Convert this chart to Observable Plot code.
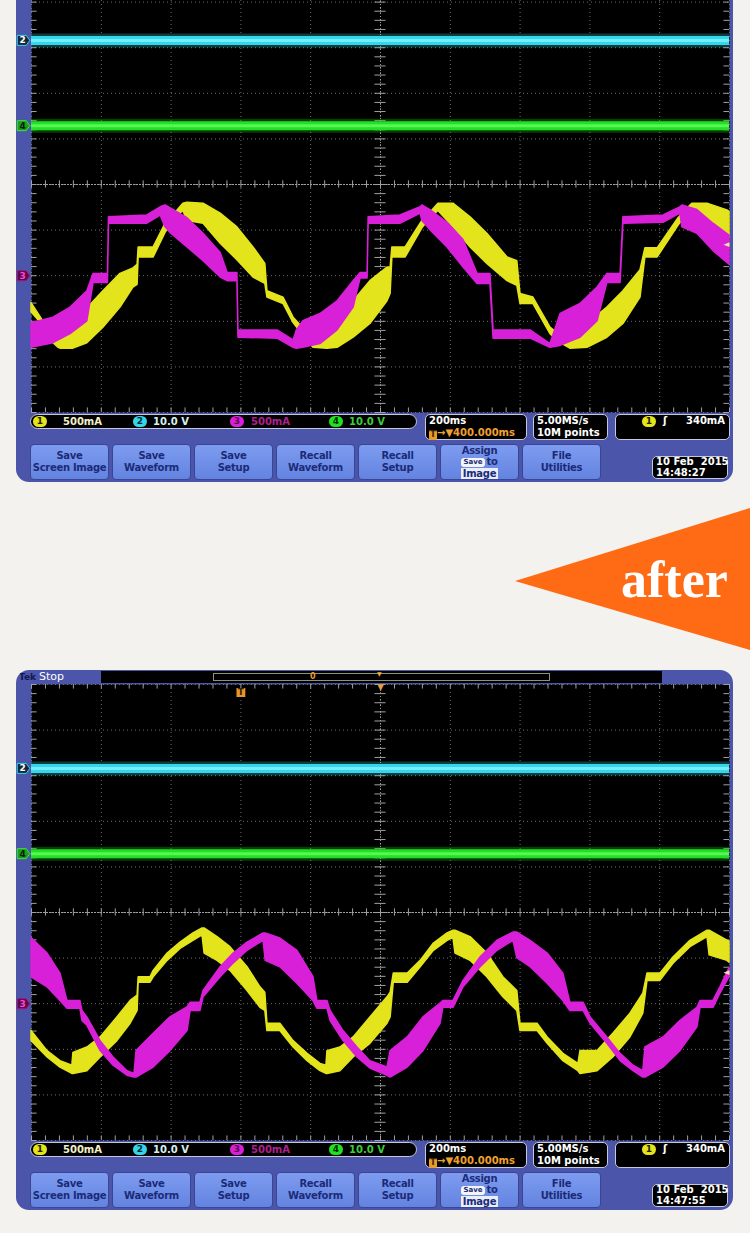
<!DOCTYPE html>
<html>
<head>
<meta charset="utf-8">
<script src="https://cdn.jsdelivr.net/npm/d3@7"></script>
<script src="https://cdn.jsdelivr.net/npm/@observablehq/plot@0.6"></script>
<style>
  html, body { margin: 0; padding: 0; }
  body { width: 750px; height: 1233px; overflow: hidden; position: relative; background: #f3f2ee; font-family: "DejaVu Sans", sans-serif; }
  .scope { position: absolute; left: 16px; width: 717px; height: 540px; background: #4b55aa; border-radius: 13px; overflow: hidden; }
  .plot { position: absolute; left: 1px; top: 14px; width: 716px; height: 456px; }
  .plot svg { display: block; max-width: none; }
  .tek { position: absolute; left: 3px; top: 1px; font: bold 9px/13px "DejaVu Sans"; color: #141850; }
  .stop { position: absolute; left: 23px; top: 0; font: 11px/14px "DejaVu Sans"; color: #fff; }
  .rec { position: absolute; left: 85px; top: 1px; width: 561px; height: 12px; background: #000; }
  .recview { position: absolute; left: 112px; top: 2px; width: 335px; height: 6px; border: 1px solid #8a9478; }
  .recT { position: absolute; left: 209px; top: 0; font: bold 8px/12px "DejaVu Sans"; color: #e89a2a; }
  .recD { position: absolute; left: 276px; top: 0; font: 6px/6px "DejaVu Sans"; color: #e8b040; }
  .pill { position: absolute; left: 14px; top: 472px; width: 385px; height: 13px; background: #000; border: 1px solid #c4c8dc; border-radius: 8px; }
  .badge { position: absolute; top: 1px; width: 14px; height: 11px; border-radius: 6px; font: bold 9px/11px "DejaVu Sans"; text-align: center; }
  .scale { position: absolute; top: 0; font: bold 10px/13px "DejaVu Sans"; white-space: pre; }
  .box { position: absolute; top: 472px; height: 24px; background: #000; border: 1px solid #c4c8dc; border-radius: 5px; color: #fff; font: bold 10px/12px "DejaVu Sans"; padding-left: 3px; white-space: pre; }
  .tb { display: inline-block; width: 8px; height: 10px; background: #e89a2a; color: #3a2000; border-radius: 2px; font-size: 8px; line-height: 10px; text-align: center; vertical-align: -1px; }
  .btn { position: absolute; top: 502px; width: 77px; height: 34px; background: linear-gradient(#7d9cf0, #6383e0); border: 1px solid #3a4694; border-radius: 4px; color: #1b2b78; font: bold 10px/12.5px "DejaVu Sans"; letter-spacing: -0.3px; white-space: nowrap; text-align: center; display: flex; flex-direction: column; justify-content: center; }
  .btn.three { line-height: 11.5px; }
  .mini { display: inline-block; background: #f4f4f4; color: #1b2b78; font-size: 7px; line-height: 9px; border-radius: 3px; padding: 0 2px; margin-right: 2px; vertical-align: 1px; letter-spacing: 0; }
  .hi { background: #e9eefb; padding: 0 2px; }
  .date { position: absolute; left: 636px; top: 514px; width: 71px; height: 21px; background: #000; border: 1px solid #c4c8dc; border-radius: 5px; color: #fff; font: bold 10px/10.5px "DejaVu Sans"; padding-left: 3px; white-space: pre; }
  .after { position: absolute; left: 0; top: 0; }
</style>
</head>
<body>
<svg class="after" width="750" height="1233">
  <polygon points="515,581 750,508 750,650" fill="#ff6b14"></polygon>
  <text x="621" y="597" fill="#fff" font-family="Liberation Serif" font-weight="bold" font-size="52">after</text>
</svg>
<script>
// timebase 200 ms/div, trigger at 0 ms, delay 400 ms
const timeMin = -600, timeMax = 1400, msPerDiv = 200, delayMs = 400;
const trigLevel = 340; // mA on channel 1

const chIds = [1, 2, 3, 4];
const chScale = ["500mA", "10.0 V", "500mA", "10.0 V"];
const chPerDiv = [500, 10, 500, 10];
const chOffsetDiv = [-2, 3.16, -2, 1.29];
const chColor = ["#e4e41c", "#34d6ea", "#d820d8", "#22e022"];
const chText = ["#f2f0c8", "#d6f0ee", "#b0208c", "#3ccc3c"];
const chDigit = ["#202000", "#002a30", "#5a0a4a", "#003000"];
const dcLevels = [0, 0]; // channel 2 and 4 sit at 0 V

// ---- before (upper screen), time in ms, current in mA ----
const beforeCh1T = [-600,-568,-545,-523,-517,-480,-440,-394,-345,-308,-296,-293,-250,-216,-187,-165,-153,-107,-58,-10,36,70,76,122,151,179,208,248,277,323,371,420,429,434,472,520,543,566,609,658,706,764,792,801,838,887,916,944,993,1050,1096,1145,1159,1194,1254,1274,1294,1337,1394,1400];
const beforeCh1Lo = [-400,-540,-710,-790,-800,-800,-740,-570,-350,-130,-100,200,200,470,630,710,600,570,350,170,-20,-90,-240,-310,-520,-660,-790,-800,-790,-680,-530,-280,-200,200,200,520,630,710,530,310,130,-60,-110,-310,-310,-640,-740,-800,-790,-680,-530,-240,200,200,550,650,710,530,420,410];
const beforeCh1Hi = [-300,-490,-640,-690,-690,-530,-360,-170,20,80,120,310,310,570,690,790,800,790,680,530,310,130,-170,-240,-460,-580,-690,-530,-460,-280,-60,90,90,310,310,600,690,790,790,640,460,200,160,-200,-240,-570,-660,-710,-530,-350,-170,60,300,300,630,715,790,790,715,700];

const beforeCh3T = [-600,-537,-488,-440,-422,-381,-378,-268,-230,-216,-202,-153,-107,-58,-38,-10,-7,105,151,160,179,228,277,323,343,363,366,457,515,520,543,592,638,678,715,724,830,887,916,973,1022,1050,1088,1096,1211,1259,1265,1308,1354,1400];
const beforeCh3Lo = [-790,-740,-640,-500,-80,-80,570,570,660,530,470,310,160,-20,-60,-60,-680,-690,-790,-800,-790,-750,-600,-350,-30,-30,570,570,680,600,500,310,90,-90,-90,-690,-690,-790,-770,-680,-500,-80,-80,570,580,680,530,460,270,120];
const beforeCh3Hi = [-520,-460,-350,-170,20,20,640,660,750,770,740,630,460,250,30,30,-600,-600,-710,-600,-500,-420,-280,-60,30,30,640,660,750,770,720,580,390,20,20,-600,-600,-750,-420,-310,-130,20,20,640,660,750,770,720,570,440];

// ---- after (lower screen) ----
const afterCh1T = [-600,-554,-517,-483,-480,-440,-402,-354,-316,-296,-293,-259,-250,-210,-173,-136,-110,-104,-67,-30,19,56,70,76,113,151,191,228,245,248,285,323,371,420,429,438,478,515,553,592,609,615,658,706,752,792,801,850,879,924,967,973,1022,1067,1116,1153,1165,1202,1240,1288,1337,1343,1394,1400];
const afterCh1Lo = [-410,-590,-700,-770,-770,-740,-590,-410,-220,-80,230,230,290,470,600,690,750,550,470,360,140,-45,-80,-300,-300,-480,-630,-740,-770,-770,-740,-590,-440,-220,-150,230,230,400,580,690,720,550,470,290,70,-80,-300,-300,-440,-630,-740,-770,-740,-590,-370,-110,250,250,440,620,730,530,470,450];
const afterCh1Hi = [-300,-520,-630,-680,-540,-480,-370,-150,30,90,290,290,360,550,670,770,825,825,730,620,400,180,120,-220,-220,-410,-550,-660,-680,-520,-480,-370,-150,70,120,330,330,470,660,770,800,800,730,550,290,140,-220,-220,-370,-550,-660,-520,-520,-330,-110,110,330,330,510,690,800,800,690,680];

const afterCh3T = [-600,-554,-517,-497,-460,-454,-440,-402,-365,-325,-305,-299,-250,-202,-153,-144,-116,-107,-58,-21,19,65,71,113,162,208,219,248,257,294,334,371,420,429,478,523,572,580,609,638,687,735,781,792,830,879,924,944,982,1002,1050,1088,1125,1153,1159,1211,1259,1308,1317,1354,1374,1400];
const afterCh3Lo = [290,180,30,-55,-55,-190,-240,-520,-680,-790,-810,-810,-700,-520,-300,-80,-80,70,290,440,580,690,470,400,220,30,-55,-55,-190,-410,-590,-710,-790,-810,-700,-520,-220,-45,-45,180,400,580,690,500,400,220,30,-80,-80,-220,-440,-630,-740,-810,-810,-700,-520,-260,-45,-45,110,290];
const afterCh3Hi = [720,550,330,30,30,-80,-150,-410,-590,-740,-770,-520,-330,-150,-40,10,10,140,400,550,670,770,770,715,580,290,30,30,-80,-300,-480,-630,-700,-520,-370,-150,0,30,30,250,510,690,780,780,690,550,330,10,10,-150,-370,-550,-680,-740,-480,-370,-190,-45,30,30,180,390];

const stamps = ["10 Feb  2015\n14:48:27", "10 Feb  2015\n14:47:55"];
const buttons = [["Save", "Screen Image"], ["Save", "Waveform"], ["Save", "Setup"], ["Recall", "Waveform"], ["Recall", "Setup"], ["Assign", "@to", "Image"], ["File", "Utilities"]];

const rows = (t, lo, hi) => t.map((d, i) => ({t: d, lo: lo[i], hi: hi[i]}));
const toDiv = (k, v) => chOffsetDiv[k] + v / chPerDiv[k];

// channel tag on the left edge
const tag = {draw(ctx, size) {
  const r = Math.sqrt(size / Math.PI);
  ctx.moveTo(-1.25 * r, -r); ctx.lineTo(0.55 * r, -r); ctx.lineTo(1.25 * r, 0);
  ctx.lineTo(0.55 * r, r); ctx.lineTo(-1.25 * r, r); ctx.closePath();
}};
const leftArrow = {draw(ctx, size) {
  const r = Math.sqrt(size / Math.PI);
  ctx.moveTo(-r, 0); ctx.lineTo(r, -r * 0.8); ctx.lineTo(r, r * 0.8); ctx.closePath();
}};

function scopePlot(ch1, ch3, showTop) {
  const divX = d3.range(timeMin, timeMax + 1, msPerDiv);
  const divY = d3.range(-5, 6);
  const minorX = d3.range(timeMin, timeMax + 1, msPerDiv / 5);
  const minorY = d3.range(-5, 5.01, 0.2);
  const tickMs = msPerDiv * 0.08;
  const center = timeMin + 5 * msPerDiv;
  const markers = [
    {id: 2, y: chOffsetDiv[1], fill: "#14283a", stroke: chColor[1], txt: "#fff"},
    {id: 4, y: chOffsetDiv[3], fill: "#1aa01a", stroke: "#40e040", txt: "#002000"},
    {id: 3, y: chOffsetDiv[2], fill: "#5a0c40", stroke: "#a01880", txt: "#ff40e0"}
  ];
  const dcY = (v, i) => toDiv(i ? 3 : 1, v);
  const marks = [
    Plot.frame({fill: "#000", stroke: "none"}),
    // graticule
    Plot.ruleX(divX, {stroke: "#6e6e6e", strokeDasharray: "1,3"}),
    Plot.ruleY(divY, {stroke: "#6e6e6e", strokeDasharray: "1,3"}),
    Plot.ruleX([center], {stroke: "#9a9a9a", strokeDasharray: "1,2"}),
    Plot.ruleY([0], {stroke: "#a0a0a0", strokeDasharray: "2,1"}),
    Plot.ruleX(minorX, {y1: -0.08, y2: 0.08, stroke: "#a0a0a0"}),
    Plot.ruleY(minorY, {x1: center - tickMs, x2: center + tickMs, stroke: "#a0a0a0"}),
    Plot.ruleX(minorX, {y1: 4.9, y2: 5, stroke: "#a0a0a0"}),
    Plot.ruleX(minorX, {y1: -5, y2: -4.9, stroke: "#a0a0a0"}),
    Plot.ruleY(minorY, {x1: timeMin, x2: timeMin + tickMs, stroke: "#a0a0a0"}),
    Plot.ruleY(minorY, {x1: timeMax - tickMs, x2: timeMax, stroke: "#a0a0a0"}),
    // ch2 and ch4 DC lines
    Plot.ruleY(dcLevels, {y: dcY, stroke: (v, i) => chColor[i ? 3 : 1], strokeWidth: 14, strokeOpacity: 0.28}),
    Plot.ruleY(dcLevels, {y: dcY, stroke: (v, i) => chColor[i ? 3 : 1], strokeWidth: 9}),
    Plot.ruleY(dcLevels, {y: dcY, stroke: (v, i) => i ? "#6cff6c" : "#8ef6ff", strokeWidth: 3, strokeOpacity: 0.7}),
    // ch1 and ch3 current bands
    Plot.areaY(ch1, {x: "t", y1: d => toDiv(0, d.lo), y2: d => toDiv(0, d.hi), fill: chColor[0], stroke: chColor[0], strokeWidth: 1.5}),
    Plot.areaY(ch3, {x: "t", y1: d => toDiv(2, d.lo), y2: d => toDiv(2, d.hi), fill: chColor[2], stroke: chColor[2], strokeWidth: 1.5}),
    // markers
    Plot.dot(markers, {x: () => timeMin, y: "y", dx: -8, r: 5, symbol: tag, fill: "fill", stroke: "stroke", strokeWidth: 1}),
    Plot.text(markers, {x: () => timeMin, y: "y", dx: -9, text: "id", fill: "txt", fontSize: 9, fontWeight: "bold"}),
    Plot.dot([trigLevel], {x: () => timeMax, y: v => toDiv(0, v), dx: -3, r: 3, symbol: leftArrow, fill: "#f6e6a6"})
  ];
  if (showTop) marks.push(
    Plot.text(["▼"], {x: () => delayMs, y: () => 5, dy: 3, fill: "#e8a030", fontSize: 8}),
    Plot.dot([0], {x: d => d, y: () => 5, dy: 8, r: 5, symbol: "square", fill: "#e8962a"}),
    Plot.text(["T"], {x: () => 0, y: () => 5, dy: 8, fill: "#3a2000", fontSize: 9, fontWeight: "bold"})
  );
  return Plot.plot({
    width: 716, height: 456,
    marginLeft: 14, marginRight: 4, marginTop: 0, marginBottom: 0,
    x: {domain: [timeMin, timeMax], axis: null},
    y: {domain: [-5, 5], axis: null},
    color: {type: "identity"},
    style: {background: "transparent", fontFamily: "DejaVu Sans", overflow: "visible"},
    marks
  });
}

function panel(top, stamp, chart, showTop) {
  const p = d3.select("body").append("div").attr("class", "scope").style("top", top + "px");
  if (showTop) {
    p.append("div").attr("class", "tek").text("Tek");
    p.append("div").attr("class", "stop").text("Stop");
    const rec = p.append("div").attr("class", "rec");
    rec.append("div").attr("class", "recview");
    rec.append("div").attr("class", "recT").text("0");
    rec.append("div").attr("class", "recD").text("▼");
  }
  p.append("div").attr("class", "plot").append(() => chart);

  const pill = p.append("div").attr("class", "pill");
  const badgeX = [2, 102, 199, 298], textX = [32, 122, 220, 318];
  chIds.forEach((id, i) => {
    pill.append("span").attr("class", "badge").style("left", badgeX[i] + "px")
      .style("background", chColor[i]).style("color", chDigit[i]).text(id);
    pill.append("span").attr("class", "scale").style("left", textX[i] + "px")
      .style("color", chText[i]).text(chScale[i]);
  });

  const tb = p.append("div").attr("class", "box").style("left", "409px").style("width", "97px");
  tb.append("div").text(`${msPerDiv}ms`);
  const l2 = tb.append("div");
  l2.append("span").attr("class", "tb").text("T");
  l2.append("span").style("color", "#f0a030").text(`→▼${delayMs.toFixed(3)}ms`);

  p.append("div").attr("class", "box").style("left", "517px").style("width", "70px").text("5.00MS/s\n10M points");

  const tr = p.append("div").attr("class", "box").style("left", "599px").style("width", "110px");
  tr.append("span").attr("class", "badge").style("left", "26px").style("top", "1px")
    .style("background", chColor[0]).style("color", chDigit[0]).text(1);
  tr.append("span").style("position", "absolute").style("left", "47px").style("top", "0px").text("ʃ");
  tr.append("span").style("position", "absolute").style("left", "70px").style("top", "0px").text(`${trigLevel}mA`);

  buttons.forEach((lines, i) => {
    const b = p.append("div").attr("class", "btn" + (lines.length > 2 ? " three" : "")).style("left", (14 + i * 82) + "px");
    lines.forEach((l, j) => {
      const row = b.append("div");
      if (l === "@to") { row.append("span").attr("class", "mini").text("Save"); row.append("span").text("to"); }
      else if (lines.length > 2 && j === 2) row.append("span").attr("class", "hi").text(l);
      else row.text(l);
    });
  });

  p.append("div").attr("class", "date").text(stamp);
}

panel(-58, stamps[0], scopePlot(rows(beforeCh1T, beforeCh1Lo, beforeCh1Hi), rows(beforeCh3T, beforeCh3Lo, beforeCh3Hi), false), false);
panel(670, stamps[1], scopePlot(rows(afterCh1T, afterCh1Lo, afterCh1Hi), rows(afterCh3T, afterCh3Lo, afterCh3Hi), true), true);
</script>
</body>
</html>
